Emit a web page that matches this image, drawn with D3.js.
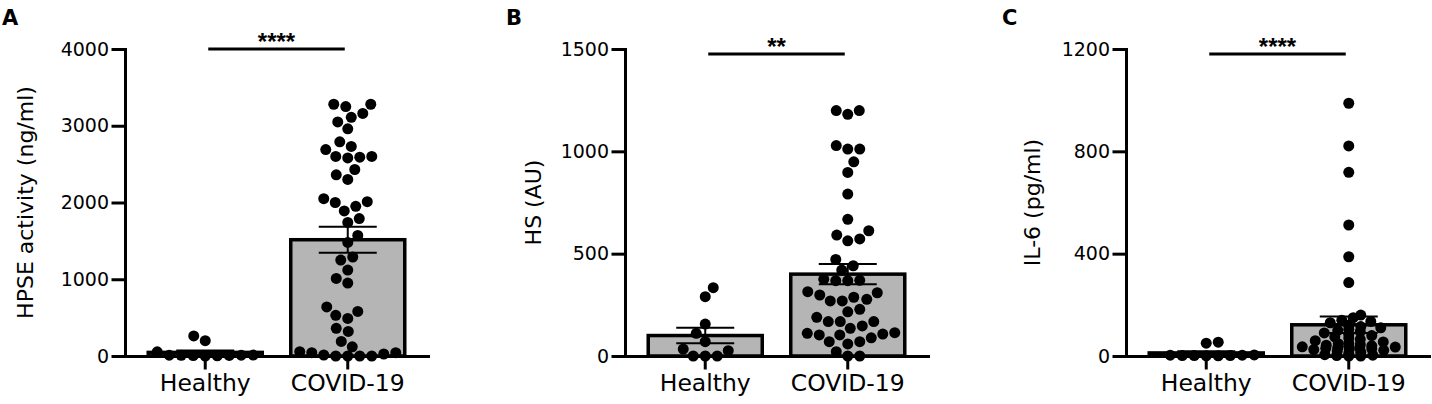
<!DOCTYPE html>
<html>
<head>
<meta charset="utf-8">
<script src="https://cdn.jsdelivr.net/npm/d3@7"></script>
<style>
  body { margin: 0; background: #fff; }
  svg { display: block; }
  .axis path, .axis line { stroke: #000; stroke-width: 3; stroke-linecap: square; }
  .axis text { font-family: "DejaVu Sans"; fill: #000; }
</style>
</head>
<body>
<div id="chart"></div>
<script>

// groups on the x axis
var groups = ["Healthy", "COVID-19"];

// panel A, HPSE activity (ng/ml)
var hpseHealthy = [8, 55, 0, 2, 12, 10, 6, 9, 11, 200, 262];
var hpseCovid = [3280, 3280, 3250, 3050, 3110, 3160, 2960, 2730, 2790, 2690,
  2600, 2600, 2590, 2580, 2430, 2360, 2300, 2000, 1950, 1890, 2050, 2010,
  1790, 1740, 1570, 1480, 1290, 1250, 1120, 1010, 950, 640, 580, 530, 490,
  360, 320, 190, 120, 0, 43, 56, 0, 43, 26, 0, 0, 13];
var hpseMean = [47, 1515];
var hpseSem = [25, 170];
var hpseTicks = [0, 1000, 2000, 3000, 4000];

// panel B, HS (AU)
var hsHealthy = [290, 334, 156, 111, 70, 34, 26, 0, 0, 0];
var hsCovid = [1181, 1199, 1199, 1011, 1028, 1011, 949, 897, 791, 668, 612,
  591, 563, 572, 472, 441, 420, 368, 368, 375, 370, 314, 287, 269, 269, 277,
  298, 309, 216, 228, 189, 168, 147, 168, 168, 135, 114, 111, 103, 107, 89,
  103, 70, 70, 59, 21, 0, 0];
var hsMean = [100, 400];
var hsSem = [38, 50];
var hsTicks = [0, 500, 1000, 1500];

// panel C, IL-6 (pg/ml)
var il6Healthy = [50, 54, 2, 3, 1, 4, 2, 3, 1, 2];
var il6Covid = [988, 821, 718, 512, 388, 287, 160, 150, 140, 135, 130, 120,
  115, 110, 105, 100, 95, 90, 85, 80, 75, 70, 65, 60, 55, 50, 48, 45, 42, 40,
  38, 36, 35, 33, 32, 30, 28, 26, 25, 22, 20, 15, 10, 5, 3, 2, 0, 0];
var il6Mean = [12, 122];
var il6Sem = [7, 32];
var il6Ticks = [0, 400, 800, 1200];

// significance stars and the level of the line above the bars
var stars = ["****", "**", "****"];
var sigLevels = [4000, 1475, 1180];
var letters = ["A", "B", "C"];
var titles = ["HPSE activity (ng/ml)", "HS (AU)", "IL-6 (pg/ml)"];

var width = 1432,
    height = 404,
    margin = {top: 49, bottom: 48},
    plotW = 303,
    dotR = 5.5;

var svg = d3.select("#chart")
    .append("svg")
    .attr("width", width)
    .attr("height", height);

svg.append("rect")
    .attr("width", width)
    .attr("height", height)
    .attr("fill", "#fff");

// how hard dots avoid each other, lower lets a crowded group overlap
var panels = [
  {left: 125, letterX: 2, titleOff: 92, values: [hpseHealthy, hpseCovid], mean: hpseMean, sem: hpseSem, ticks: hpseTicks, avoid: [1000, 1000]},
  {left: 625, letterX: 506, titleOff: 84, values: [hsHealthy, hsCovid], mean: hsMean, sem: hsSem, ticks: hsTicks, avoid: [1000, 1000]},
  {left: 1126, letterX: 1002, titleOff: 86, values: [il6Healthy, il6Covid], mean: il6Mean, sem: il6Sem, ticks: il6Ticks, avoid: [1000, 2.5]}
];

panels.forEach(function(p, i) {
  drawPanel(p, i);
});

function drawPanel(p, i) {

  var g = svg.append("g")
      .attr("transform", "translate(" + p.left + ",0)");

  // scales
  var xScale = d3.scaleBand()
      .domain(groups)
      .range([0, plotW])
      .paddingInner(0.2)
      .paddingOuter(0.163);

  var yScale = d3.scaleLinear()
      .domain([0, d3.max(p.ticks)])
      .range([height - margin.bottom, margin.top]);

  var bw = xScale.bandwidth();

  // bars with the mean
  g.selectAll(".bar")
      .data(groups)
      .enter()
      .append("rect")
      .attr("x", function(d) { return xScale(d); })
      .attr("y", function(d, j) { return yScale(p.mean[j]); })
      .attr("width", bw)
      .attr("height", function(d, j) { return yScale(0) - yScale(p.mean[j]); })
      .attr("fill", "#b5b5b5")
      .attr("stroke", "#000")
      .attr("stroke-width", 3.5);

  // error bars, mean +/- sem
  groups.forEach(function(grp, j) {
    var cx = xScale(grp) + bw / 2;
    var hi = yScale(p.mean[j] + p.sem[j]);
    var lo = yScale(Math.max(0, p.mean[j] - p.sem[j]));
    var eb = g.append("g")
        .attr("stroke", "#000")
        .attr("stroke-width", 2);
    eb.append("line").attr("x1", cx).attr("x2", cx).attr("y1", lo).attr("y2", hi);
    eb.append("line").attr("x1", cx - 29).attr("x2", cx + 29).attr("y1", hi).attr("y2", hi);
    eb.append("line").attr("x1", cx - 29).attr("x2", cx + 29).attr("y1", lo).attr("y2", lo);
  });

  // dots, spread out like a beeswarm
  groups.forEach(function(grp, j) {
    var vals = p.values[j];
    var offsets = swarm(vals, yScale, 53, 2 * dotR + 1, p.avoid[j]);
    g.selectAll(".dot" + j)
        .data(vals)
        .enter()
        .append("circle")
        .attr("cx", function(d, k) { return xScale(grp) + bw / 2 + offsets[k]; })
        .attr("cy", function(d) { return yScale(d); })
        .attr("r", dotR)
        .attr("fill", "#000");
  });

  // axes
  var yAxis = d3.axisLeft(yScale)
      .tickValues(p.ticks)
      .tickFormat(d3.format("d"))
      .tickSize(12)
      .tickSizeOuter(0)
      .tickPadding(4);

  var xAxis = d3.axisBottom(xScale)
      .tickSize(12)
      .tickSizeOuter(0)
      .tickPadding(6);

  g.append("g")
      .attr("class", "axis")
      .attr("transform", "translate(0," + (height - margin.bottom) + ")")
      .call(xAxis)
      .selectAll("text")
      .attr("font-size", "23.5px");

  g.append("g")
      .attr("class", "axis")
      .call(yAxis)
      .selectAll("text")
      .attr("font-size", "19px");

  // y axis title
  g.append("text")
      .attr("transform", "translate(" + (-p.titleOff) + "," + ((height - margin.bottom + margin.top) / 2) + ") rotate(-90)")
      .attr("text-anchor", "middle")
      .attr("font-family", "DejaVu Sans")
      .attr("font-size", "22px")
      .text(titles[i]);

  // significance line and stars
  var sy = yScale(sigLevels[i]);
  var x1 = xScale(groups[0]) + bw / 2 + 3,
      x2 = xScale(groups[1]) + bw / 2 - 3;
  g.append("line")
      .attr("x1", x1).attr("x2", x2)
      .attr("y1", sy).attr("y2", sy)
      .attr("stroke", "#000")
      .attr("stroke-width", 3);
  g.append("text")
      .attr("x", (x1 + x2) / 2)
      .attr("y", sy + 1)
      .attr("text-anchor", "middle")
      .attr("font-family", "Liberation Sans")
      .attr("font-weight", "bold")
      .attr("font-size", "24px")
      .text(stars[i]);

  // panel letter
  svg.append("text")
      .attr("x", p.letterX)
      .attr("y", 25)
      .attr("font-family", "DejaVu Sans")
      .attr("font-weight", "bold")
      .attr("font-size", "21px")
      .text(letters[i]);
}

// place each dot as close to the centre as it can go without overlapping
function swarm(values, yScale, maxHalf, dist, avoid) {
  var order = d3.range(values.length).sort(function(a, b) { return values[a] - values[b]; });
  var placed = [];
  var xs = new Array(values.length);
  order.forEach(function(idx, k) {
    var py = yScale(values[idx]);
    var best = 0, bestCost = Infinity;
    var sides = k % 2 ? [1, -1] : [-1, 1];
    for (var s = 0; s <= maxHalf; s += 0.5) {
      sides.forEach(function(sign) {
        var px = s * sign;
        var overlap = 0;
        placed.forEach(function(q) {
          var d = Math.hypot(q.x - px, q.y - py);
          if (d < dist) overlap += dist - d;
        });
        var cost = overlap * avoid + s;
        if (cost < bestCost) { bestCost = cost; best = px; }
      });
    }
    placed.push({x: best, y: py});
    xs[idx] = best;
  });
  return xs;
}

</script>
</body>
</html>
